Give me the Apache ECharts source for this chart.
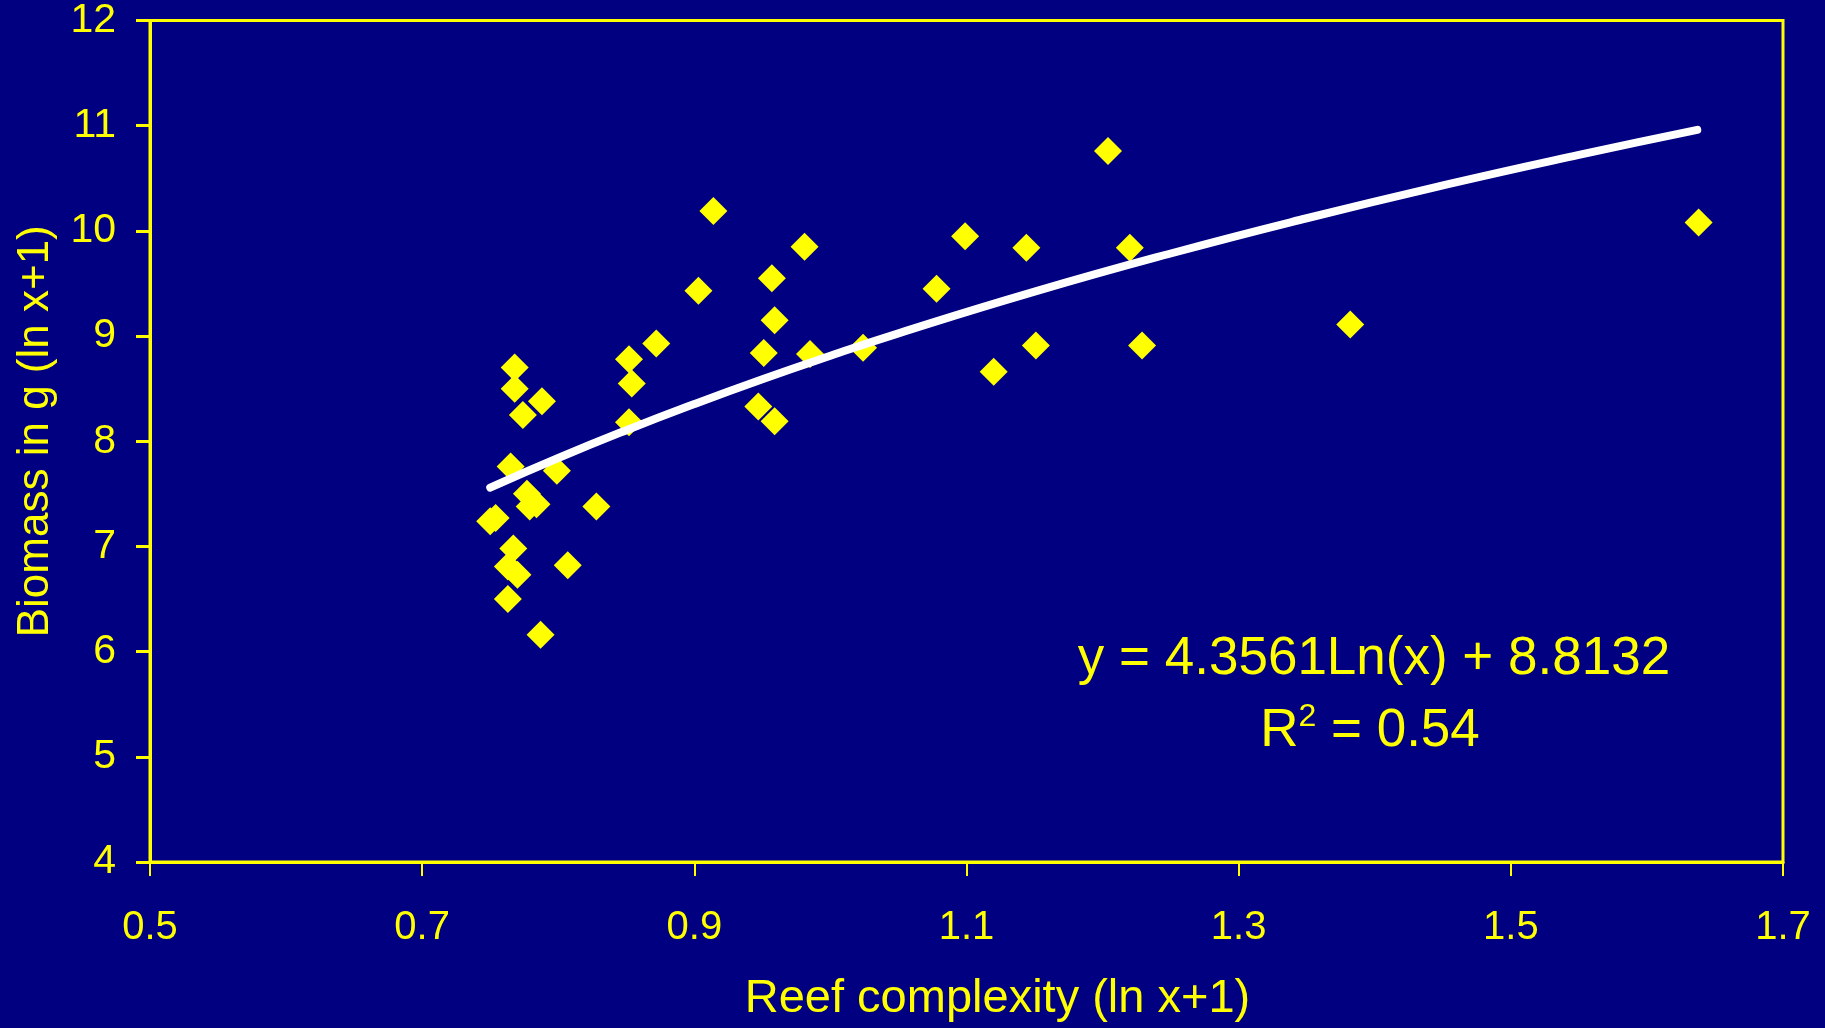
<!DOCTYPE html>
<html>
<head>
<meta charset="utf-8">
<script src="https://cdn.jsdelivr.net/npm/echarts@6/dist/echarts.min.js"></script>
<style>
  html, body { margin: 0; padding: 0; background: #000080; }
  #chart { width: 1825px; height: 1028px; }
</style>
</head>
<body>
<div id="chart"></div>
<script>
// Reef complexity (ln x+1)
const complexity = [
  0.768, 0.768, 0.788, 0.774, 0.852, 0.872, 0.854, 0.852,
  0.765, 0.799, 0.777, 0.779, 0.784, 0.828, 0.750, 0.754,
  0.767, 0.763, 0.770, 0.807, 0.763, 0.787,
  0.914, 0.981, 0.957, 0.903, 0.959, 0.951, 0.985, 1.024, 0.947, 0.959,
  1.204, 1.099, 1.144, 1.220, 1.078, 1.151, 1.229, 1.120,
  1.638, 1.382
];
// Biomass in g (ln x+1)
const biomass = [
  8.70, 8.50, 8.38, 8.25, 8.78, 8.93, 8.55, 8.18,
  7.76, 7.72, 7.50, 7.38, 7.40, 7.38, 7.24, 7.27,
  6.98, 6.81, 6.73, 6.82, 6.50, 6.16,
  10.19, 9.85, 9.55, 9.43, 9.15, 8.84, 8.83, 8.89, 8.33, 8.19,
  10.76, 9.95, 9.84, 9.84, 9.45, 8.91, 8.91, 8.66,
  10.08, 9.11
];
// Logarithmic trend line
const trendX = [0.75, 0.80, 0.85, 0.90, 0.95, 1.00, 1.05, 1.15, 1.25, 1.35, 1.45, 1.55, 1.637];
const trendY = [7.560, 7.841, 8.105, 8.354, 8.590, 8.813, 9.026, 9.422, 9.785, 10.120, 10.432, 10.722, 10.960];

const xAxisTitle = 'Reef complexity (ln x+1)';
const yAxisTitle = 'Biomass in g (ln x+1)';
const equationText = 'y = 4.3561Ln(x) + 8.8132';
const r2Value = '0.54';

const YELLOW = '#FFFF00';
const FONT = '"Liberation Sans", Arial, sans-serif';

const scatterData = complexity.map((x, i) => [x, biomass[i]]);
const trendData = trendX.map((x, i) => [x, trendY[i]]);

const chart = echarts.init(document.getElementById('chart'), null, { renderer: 'canvas' });
chart.setOption({
  backgroundColor: '#000080',
  animation: false,
  grid: {
    left: 150, right: 42, top: 20, bottom: 163,
    show: true, borderColor: YELLOW, borderWidth: 3, backgroundColor: 'transparent'
  },
  xAxis: {
    type: 'value', min: 0.5, max: 1.7, interval: 0.2,
    axisLine: { show: true, onZero: false, lineStyle: { color: YELLOW, width: 3 } },
    axisTick: { show: true, inside: false, length: 14, lineStyle: { color: YELLOW, width: 2 } },
    splitLine: { show: false },
    axisLabel: {
      color: YELLOW, fontFamily: FONT, fontSize: 40, margin: 46,
      formatter: v => v.toFixed(1)
    },
    name: xAxisTitle, nameLocation: 'middle', nameGap: 114,
    nameTextStyle: { color: YELLOW, fontFamily: FONT, fontSize: 47, padding: [0, 0, 0, 62] }
  },
  yAxis: {
    type: 'value', min: 4, max: 12, interval: 1,
    axisLine: { show: true, onZero: false, lineStyle: { color: YELLOW, width: 3 } },
    axisTick: { show: true, inside: false, length: 14, lineStyle: { color: YELLOW, width: 3 } },
    splitLine: { show: false },
    axisLabel: { color: YELLOW, fontFamily: FONT, fontSize: 41, margin: 34 },
    name: yAxisTitle, nameLocation: 'middle', nameGap: 92, nameRotate: 90,
    nameTextStyle: { color: YELLOW, fontFamily: FONT, fontSize: 44, padding: [0, 0, 0, 20] }
  },
  series: [
    {
      type: 'scatter',
      data: scatterData,
      symbol: 'diamond',
      symbolSize: 28,
      itemStyle: { color: YELLOW, opacity: 1 },
      z: 2
    },
    {
      type: 'line',
      data: trendData,
      smooth: true,
      showSymbol: false,
      symbol: 'none',
      lineStyle: { color: '#FFFFFF', width: 8, cap: 'round' },
      z: 3
    }
  ],
  graphic: [
    {
      type: 'text', x: 1374, y: 659, z: 10,
      style: {
        text: equationText, fill: YELLOW, font: '53px ' + FONT,
        align: 'center', verticalAlign: 'middle'
      }
    },
    {
      type: 'text', x: 1370, y: 731, z: 10,
      style: {
        text: '{a|R}{b|2}{a| = ' + r2Value + '}',
        align: 'center', verticalAlign: 'middle',
        rich: {
          a: { fill: YELLOW, fontSize: 53, fontFamily: FONT, lineHeight: 60 },
          b: { fill: YELLOW, fontSize: 32, fontFamily: FONT, verticalAlign: 'top', lineHeight: 60 }
        }
      }
    }
  ]
});
</script>
</body>
</html>
